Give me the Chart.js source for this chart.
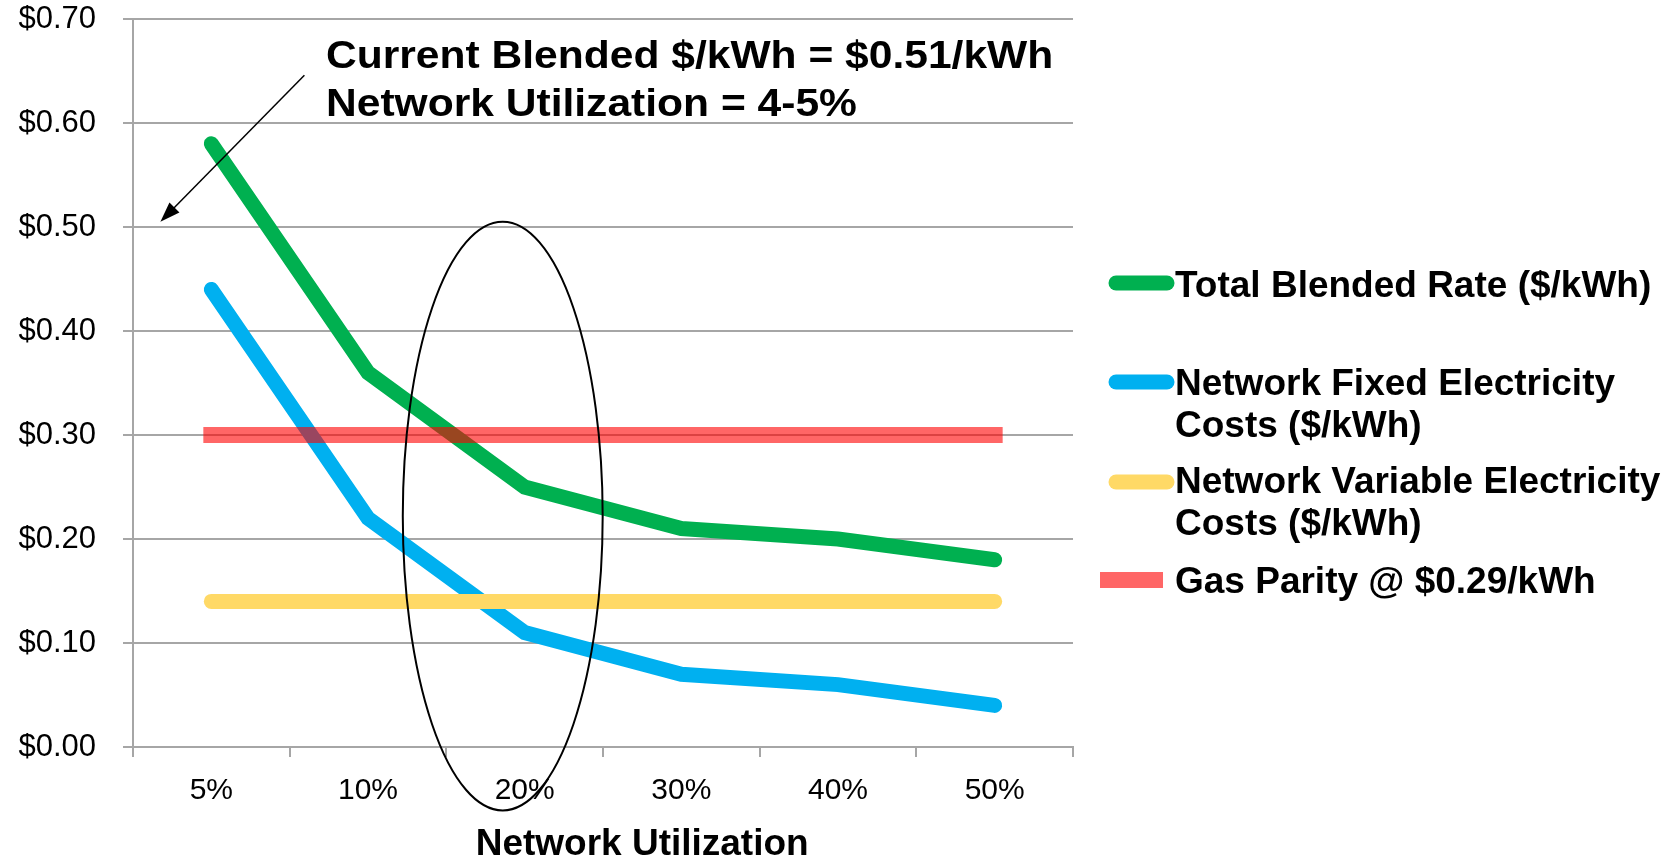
<!DOCTYPE html>
<html>
<head>
<meta charset="utf-8">
<script src="https://cdn.jsdelivr.net/npm/chart.js@4.4.0/dist/chart.umd.min.js"></script>
<style>
  html, body { margin: 0; padding: 0; background: #fff; }
</style>
</head>
<body>
<canvas id="rateChart" width="1675" height="860"></canvas>
<script>
const categories = ["5%", "10%", "20%", "30%", "40%", "50%"];
const totalBlended = [0.58, 0.36, 0.25, 0.21, 0.20, 0.18];
const networkFixed = [0.44, 0.22, 0.11, 0.07, 0.06, 0.04];
const networkVariable = [0.14, 0.14, 0.14, 0.14, 0.14, 0.14];
const gasParity = [0.30, 0.30, 0.30, 0.30, 0.30, 0.30];
const yTickLabels = ["$0.00", "$0.10", "$0.20", "$0.30", "$0.40", "$0.50", "$0.60", "$0.70"];

const seriesLabels = [
  "Total Blended Rate ($/kWh)",
  "Network Fixed Electricity\nCosts ($/kWh)",
  "Network Variable Electricity\nCosts ($/kWh)",
  "Gas Parity @ $0.29/kWh",
];
const xTitle = "Network Utilization";
const noteLines = ["Current Blended $/kWh = $0.51/kWh", "Network Utilization = 4-5%"];

const FONT = "'Liberation Sans', Arial, sans-serif";
const GRID = "#A6A6A6";
Chart.defaults.font.family = FONT;
Chart.defaults.color = "#000";

/* ---------- legend on the right ---------- */
const legendPlace = [
  { marker: 283, lines: [297] },
  { marker: 382, lines: [395, 437] },
  { marker: 482, lines: [493, 535] },
  { marker: 580, lines: [593], rect: true },
];

const sideLegend = {
  id: "sideLegend",
  afterDraw(chart) {
    const ctx = chart.ctx;
    ctx.save();
    ctx.font = "bold 37px " + FONT;
    ctx.textAlign = "left";
    ctx.textBaseline = "alphabetic";
    chart.data.datasets.forEach((ds, i) => {
      const p = legendPlace[i];
      if (p.rect) {
        ctx.fillStyle = ds.borderColor;
        ctx.fillRect(1100, p.marker - 8, 63, 16);
      } else {
        ctx.strokeStyle = ds.borderColor;
        ctx.lineWidth = 15;
        ctx.lineCap = "round";
        ctx.beginPath();
        ctx.moveTo(1116, p.marker);
        ctx.lineTo(1167, p.marker);
        ctx.stroke();
      }
      ctx.fillStyle = "#000";
      ds.label.split("\n").forEach((t, k) => ctx.fillText(t, 1175, p.lines[k]));
    });
    ctx.restore();
  },
};

/* ---------- ellipse, arrow, note and axis title ---------- */
const notes = {
  id: "notes",
  afterDatasetsDraw(chart) {
    const { ctx, scales: { x, y } } = chart;
    const step = x.getPixelForValue(1) - x.getPixelForValue(0);
    const px = i => x.getPixelForValue(0) + i * step;
    ctx.save();

    // ellipse round the 20% region
    ctx.strokeStyle = "#000";
    ctx.lineWidth = 2;
    ctx.beginPath();
    ctx.ellipse(px(1.86), y.getPixelForValue(0.222), 0.638 * step,
      y.getPixelForValue(0) - y.getPixelForValue(0.283), 0, 0, Math.PI * 2);
    ctx.stroke();

    // arrow
    const x1 = px(0.594), y1 = y.getPixelForValue(0.646);
    const x2 = px(-0.325), y2 = y.getPixelForValue(0.505);
    const ang = Math.atan2(y2 - y1, x2 - x1);
    ctx.lineWidth = 1.5;
    ctx.beginPath();
    ctx.moveTo(x1, y1);
    ctx.lineTo(x2 - 14 * Math.cos(ang), y2 - 14 * Math.sin(ang));
    ctx.stroke();
    ctx.fillStyle = "#000";
    ctx.beginPath();
    ctx.moveTo(x2, y2);
    ctx.lineTo(x2 - 20 * Math.cos(ang) + 7 * Math.sin(ang), y2 - 20 * Math.sin(ang) - 7 * Math.cos(ang));
    ctx.lineTo(x2 - 20 * Math.cos(ang) - 7 * Math.sin(ang), y2 - 20 * Math.sin(ang) + 7 * Math.cos(ang));
    ctx.closePath();
    ctx.fill();

    // note text (wide bold)
    ctx.font = "bold 38px " + FONT;
    ctx.textBaseline = "alphabetic";
    [68, 116].forEach((by, k) => {
      ctx.save();
      ctx.translate(326, by);
      ctx.scale(1.12, 1);
      ctx.fillText(noteLines[k], 0, 0);
      ctx.restore();
    });

    // x axis title, sitting a little right of the plot centre
    ctx.font = "bold 37px " + FONT;
    ctx.textAlign = "center";
    ctx.textBaseline = "middle";
    ctx.fillText(xTitle, px(2.75), 845);
    ctx.restore();
  },
};

const lineStyle = {
  borderWidth: 15,
  borderCapStyle: "round",
  borderJoinStyle: "miter",
  pointRadius: 0,
  pointHoverRadius: 0,
  tension: 0,
  fill: false,
};

new Chart(document.getElementById("rateChart"), {
  type: "line",
  data: {
    labels: categories,
    datasets: [
      { ...lineStyle, label: seriesLabels[0], data: totalBlended, borderColor: "#00B050", order: 3 },
      { ...lineStyle, label: seriesLabels[1], data: networkFixed, borderColor: "#00B0F0", order: 4 },
      { ...lineStyle, label: seriesLabels[2], data: networkVariable, borderColor: "#FFD966", order: 2 },
      { ...lineStyle, label: seriesLabels[3], data: gasParity, borderColor: "rgba(255,0,0,0.6)",
        borderWidth: 16, borderCapStyle: "square", order: 1 },
    ],
  },
  options: {
    responsive: false,
    animation: false,
    layout: { padding: { top: 19, right: 602, left: 0, bottom: 0 } },
    plugins: {
      legend: { display: false },
      tooltip: { enabled: false },
    },
    scales: {
      x: {
        offset: true,
        grid: { offset: true, drawOnChartArea: false, drawTicks: true, tickLength: 10, color: GRID, lineWidth: 2 },
        border: { display: true, color: GRID, width: 2 },
        ticks: { font: { size: 30 }, padding: 16, maxRotation: 0, autoSkip: false, color: "#000" },
        afterFit: s => { s.height = 113; s.paddingLeft = 0; s.paddingRight = 0; },
      },
      y: {
        min: 0,
        max: 0.7,
        grid: { color: GRID, lineWidth: 2, tickLength: 10 },
        border: { display: true, color: GRID, width: 2 },
        ticks: {
          stepSize: 0.1,
          padding: 27,
          font: { size: 31 },
          color: "#000",
          callback: (v, i) => yTickLabels[i],
        },
        afterFit: s => { s.width = 133; s.paddingTop = 0; s.paddingBottom = 0; },
      },
    },
  },
  plugins: [notes, sideLegend],
});
</script>
</body>
</html>
